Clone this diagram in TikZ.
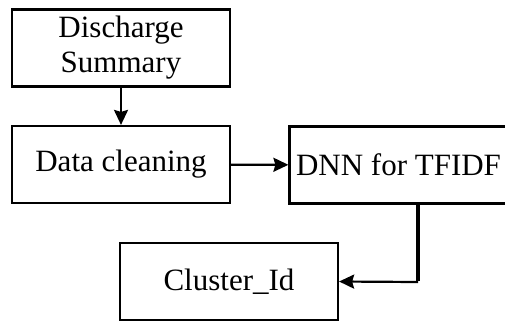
\documentclass[tikz,border=0pt]{standalone}
\usepackage{fontspec}
\setmainfont{Liberation Serif}
\usepackage{tikz}
\usetikzlibrary{arrows.meta}

\begin{document}
\begin{tikzpicture}[x=1pt,y=-1pt,
    block/.style={draw=black, line width=2.2pt, minimum width=218pt,
        minimum height=77pt, inner sep=0pt, align=center,
        font=\fontsize{31}{35}\selectfont},
    flow/.style={line width=2.2pt, -{Stealth[length=15pt,width=14pt,inset=2pt]}}]
    \useasboundingbox (0,0) rectangle (505,325);
    \clip (0,0) rectangle (505,325);

    \node[block] (summary) at (121,48) {Discharge\\Summary};
    \node[block] (clean) at (121,164.5) {Data cleaning};
    \node[block] (dnn) at (398.5,165) {DNN for TFIDF};
    \node[block] (cid) at (229,281.5) {Cluster\_Id};

    \coordinate (bend) at (418,282);

    \draw[flow] (summary) -- (clean);
    \draw[flow] (clean) -- (dnn);
    \draw[line width=4.5pt] (dnn.south -| bend) -- ([yshift=1pt]bend);
    \draw[flow] (bend) -- (cid.east);

\end{tikzpicture}
\end{document}
